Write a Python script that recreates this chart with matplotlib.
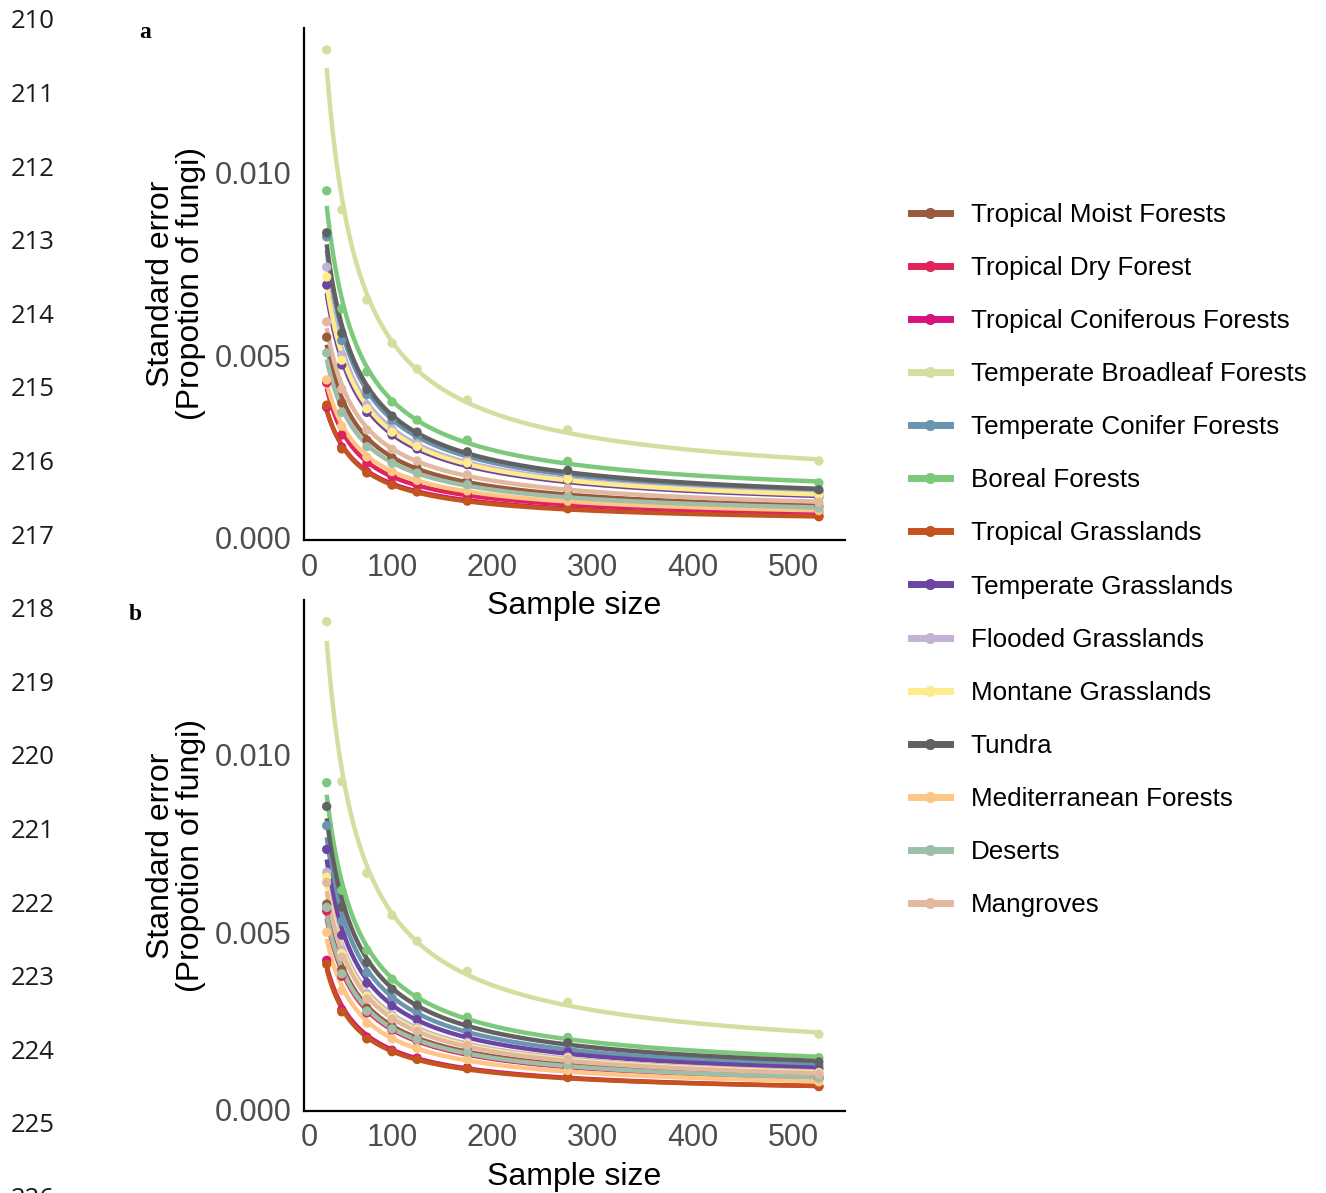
import numpy as np
import matplotlib.pyplot as plt

# sample sizes (x) shared by every biome
sample_size = [35, 50, 75, 100, 125, 175, 275, 525]

biomes = ["Tropical Moist Forests", "Tropical Dry Forest", "Tropical Coniferous Forests",
          "Temperate Broadleaf Forests", "Temperate Conifer Forests", "Boreal Forests",
          "Tropical Grasslands", "Temperate Grasslands", "Flooded Grasslands",
          "Montane Grasslands", "Tundra", "Mediterranean Forests", "Deserts", "Mangroves"]

colors = ["#995A3B", "#E0245A", "#D6137E", "#D3DF9F", "#6A94B0", "#7CC97C", "#C5531E",
          "#6B45A0", "#C3B2D5", "#FEEB8C", "#616161", "#FDC686", "#9DBFAA", "#E2B8A0"]

# panel a: standard error per biome
se_a = {
    "Tropical Moist Forests":      [0.00550, 0.00370, 0.00268, 0.00220, 0.00191, 0.00156, 0.00122, 0.00087],
    "Tropical Dry Forest":         [0.00425, 0.00282, 0.00205, 0.00168, 0.00146, 0.00119, 0.00093, 0.00071],
    "Tropical Coniferous Forests": [0.00358, 0.00249, 0.00181, 0.00148, 0.00128, 0.00105, 0.00082, 0.00060],
    "Temperate Broadleaf Forests": [0.01337, 0.00899, 0.00652, 0.00534, 0.00463, 0.00378, 0.00296, 0.00211],
    "Temperate Conifer Forests":   [0.00825, 0.00541, 0.00393, 0.00322, 0.00279, 0.00229, 0.00179, 0.00127],
    "Boreal Forests":              [0.00951, 0.00628, 0.00455, 0.00373, 0.00323, 0.00268, 0.00210, 0.00151],
    "Tropical Grasslands":         [0.00364, 0.00244, 0.00178, 0.00145, 0.00126, 0.00101, 0.00080, 0.00058],
    "Temperate Grasslands":        [0.00693, 0.00474, 0.00344, 0.00282, 0.00244, 0.00201, 0.00157, 0.00113],
    "Flooded Grasslands":          [0.00742, 0.00501, 0.00364, 0.00298, 0.00258, 0.00212, 0.00165, 0.00119],
    "Montane Grasslands":          [0.00715, 0.00487, 0.00354, 0.00290, 0.00251, 0.00206, 0.00161, 0.00117],
    "Tundra":                      [0.00836, 0.00561, 0.00407, 0.00334, 0.00290, 0.00236, 0.00185, 0.00132],
    "Mediterranean Forests":       [0.00433, 0.00306, 0.00222, 0.00182, 0.00158, 0.00129, 0.00101, 0.00075],
    "Deserts":                     [0.00507, 0.00344, 0.00250, 0.00205, 0.00178, 0.00146, 0.00114, 0.00082],
    "Mangroves":                   [0.00592, 0.00408, 0.00296, 0.00243, 0.00211, 0.00173, 0.00135, 0.00098],
}

# panel b
se_b = {
    "Tropical Moist Forests":      [0.00579, 0.00395, 0.00287, 0.00235, 0.00204, 0.00167, 0.00130, 0.00093],
    "Tropical Dry Forest":         [0.00560, 0.00376, 0.00273, 0.00224, 0.00194, 0.00159, 0.00124, 0.00088],
    "Tropical Coniferous Forests": [0.00421, 0.00282, 0.00205, 0.00168, 0.00146, 0.00119, 0.00093, 0.00066],
    "Temperate Broadleaf Forests": [0.01374, 0.00924, 0.00666, 0.00548, 0.00475, 0.00390, 0.00303, 0.00213],
    "Temperate Conifer Forests":   [0.00800, 0.00531, 0.00386, 0.00316, 0.00274, 0.00224, 0.00175, 0.00125],
    "Boreal Forests":              [0.00921, 0.00618, 0.00449, 0.00368, 0.00319, 0.00261, 0.00204, 0.00147],
    "Tropical Grasslands":         [0.00410, 0.00276, 0.00200, 0.00164, 0.00142, 0.00116, 0.00091, 0.00066],
    "Temperate Grasslands":        [0.00733, 0.00492, 0.00357, 0.00293, 0.00254, 0.00208, 0.00163, 0.00116],
    "Flooded Grasslands":          [0.00669, 0.00450, 0.00327, 0.00268, 0.00232, 0.00190, 0.00149, 0.00106],
    "Montane Grasslands":          [0.00655, 0.00440, 0.00320, 0.00262, 0.00227, 0.00186, 0.00145, 0.00104],
    "Tundra":                      [0.00854, 0.00571, 0.00415, 0.00340, 0.00295, 0.00242, 0.00189, 0.00135],
    "Mediterranean Forests":       [0.00500, 0.00336, 0.00244, 0.00200, 0.00173, 0.00142, 0.00111, 0.00079],
    "Deserts":                     [0.00570, 0.00383, 0.00278, 0.00228, 0.00198, 0.00162, 0.00127, 0.00090],
    "Mangroves":                   [0.00640, 0.00430, 0.00312, 0.00256, 0.00222, 0.00182, 0.00142, 0.00101],
}

x_ticks = [18, 100, 200, 300, 400, 500]
x_ticklabels = ["0", "100", "200", "300", "400", "500"]
y_ticks = [0.0, 0.005, 0.010]
y_ticklabels = ["0.000", "0.005", "0.010"]
line_numbers = list(range(210, 227))

plt.rcParams['font.family'] = ['Liberation Sans', 'DejaVu Sans']

fig = plt.figure(figsize=(13.26, 11.93), dpi=100)
W, H = 1326, 1193

ax_a = fig.add_axes([304 / W, (H - 540) / H, 541 / W, 512 / H])
ax_b = fig.add_axes([304 / W, (H - 1111) / H, 541 / W, 511 / H])
ax_b.patch.set_alpha(0)   # so panel a's x label is not hidden

x = np.array(sample_size, dtype=float)
xs = np.linspace(x.min(), x.max(), 300)


def draw_panel(ax, data, ylim):
    for name, col in zip(biomes, colors):
        y = np.array(data[name])
        # smooth curve fitted in log-log space
        coef = np.polyfit(np.log(x), np.log(y), 2)
        ys = np.exp(np.polyval(coef, np.log(xs)))
        ax.plot(xs, ys, color=col, lw=3.2, solid_capstyle='butt', zorder=2)
        ax.scatter(x, y, s=45, color=col, edgecolors='none', zorder=3)
    ax.set_xlim(12.4, 551)
    ax.set_ylim(*ylim)
    ax.set_xticks(x_ticks)
    ax.set_xticklabels(x_ticklabels)
    ax.set_yticks(y_ticks)
    ax.set_yticklabels(y_ticklabels)
    ax.tick_params(length=0, labelsize=22, labelcolor="#4D4D4D")
    ax.tick_params(axis='x', pad=9)
    ax.tick_params(axis='y', pad=9)
    for s in ['top', 'right']:
        ax.spines[s].set_visible(False)
    for s in ['left', 'bottom']:
        ax.spines[s].set_linewidth(1.6)
    ax.set_xlabel("Sample size", fontsize=23, labelpad=6)
    ax.set_ylabel("Standard error\n(Propotion of fungi)", fontsize=23,
                  labelpad=6, linespacing=1.0)


draw_panel(ax_a, se_a, (-0.000055, 0.01397))
draw_panel(ax_b, se_b, (-0.00003, 0.01435))

# legend
handles = [plt.Line2D([], [], color=c, lw=5, marker='o', markersize=8,
                      markeredgewidth=0) for c in colors]
fig.legend(handles, biomes, loc='center left',
           bbox_to_anchor=(911 / W, 1 - 560 / H), frameon=False,
           fontsize=18.7, handlelength=1.5, handletextpad=0.8,
           labelspacing=1.12, borderpad=0, borderaxespad=0)

# panel letters
fig.text(145 / W, 1 - 32 / H, "a", family='Liberation Serif', weight='bold',
         fontsize=17, ha='center', va='center')
fig.text(135 / W, 1 - 615 / H, "b", family='Liberation Serif', weight='bold',
         fontsize=17, ha='center', va='center')

# manuscript line numbers
for i, num in enumerate(line_numbers):
    yy = 22 + i * 73.6
    fig.text(11 / W, 1 - yy / H, str(num), family='Open Sans', fontsize=18.5,
             ha='left', va='center', color="#1a1a1a")

fig.savefig("out.png", dpi=100)
